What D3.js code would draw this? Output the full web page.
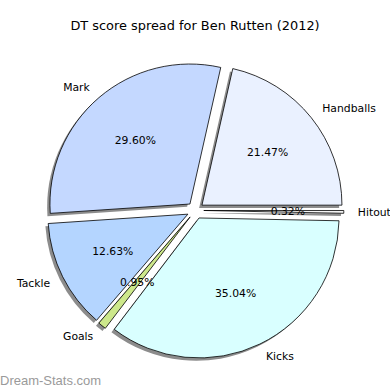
<!DOCTYPE html>
<html>
<head>
<meta charset="utf-8">
<script src="https://cdn.jsdelivr.net/npm/d3@7"></script>
<style>
  body { margin: 0; background: #fff; }
  text { font-family: "DejaVu Sans", sans-serif; fill: #000; }
</style>
</head>
<body>
<svg width="390" height="390"></svg>
<script>
// slices, in the order they go round (anticlockwise from 3 o'clock)
var labels = ["Handballs", "Mark", "Tackle", "Goals", "Kicks", "Hitout"];
var shares = [21.47, 29.60, 12.63, 0.95, 35.04, 0.32];
var colors = ["#eaf1ff", "#c4d8ff", "#b4d5ff", "#cde88b", "#d9ffff", "#f4f4f4"];

var svgWidth = 390, svgHeight = 390;
var cx = 195.4, cy = 210.4, radius = 140;
var explode = 8.4;

var svg = d3.select('svg')
    .attr("width", svgWidth)
    .attr("height", svgHeight);

svg.append("rect")
    .attr("width", svgWidth)
    .attr("height", svgHeight)
    .attr("fill", "#fff");

svg.append("text")
    .attr("x", 195)
    .attr("y", 25)
    .attr("text-anchor", "middle")
    .attr("dominant-baseline", "central")
    .style("font-size", "12.9px")
    .text("DT score spread for Ben Rutten (2012)");

var data = labels.map(function(d, i) {
    return {label: d, value: shares[i], color: colors[i]};
});

// matplotlib-style: start at 3 o'clock, go anticlockwise
var pie = d3.pie()
    .sort(null)
    .value(function(d) { return d.value; })
    .startAngle(Math.PI / 2)
    .endAngle(Math.PI / 2 - 2 * Math.PI);

var arcs = pie(data);

var path = d3.arc()
    .outerRadius(radius)
    .innerRadius(0);

function unit(d) {
    var m = (d.startAngle + d.endAngle) / 2;
    return [Math.sin(m), -Math.cos(m)];
}

var g = svg.append("g")
    .attr("transform", "translate(" + cx + "," + cy + ")");

// shadows first, under the wedges
g.selectAll(".shadow")
    .data(arcs)
    .enter()
    .append("path")
    .attr("class", "shadow")
    .attr("d", path)
    .attr("fill", "#8c8c8c")
    .attr("transform", function(d) {
        var u = unit(d);
        return "translate(" + (u[0] * explode - 2.8) + "," + (u[1] * explode + 2.8) + ")";
    });

g.selectAll(".wedge")
    .data(arcs)
    .enter()
    .append("path")
    .attr("class", "wedge")
    .attr("d", path)
    .attr("fill", function(d) { return d.data.color; })
    .attr("stroke", "#000")
    .attr("stroke-width", 0.8)
    .attr("stroke-linejoin", "round")
    .attr("transform", function(d) {
        var u = unit(d);
        return "translate(" + (u[0] * explode) + "," + (u[1] * explode) + ")";
    });

// outer labels
g.selectAll(".lbl")
    .data(arcs)
    .enter()
    .append("text")
    .attr("class", "lbl")
    .attr("x", function(d) { return unit(d)[0] * (explode + 1.1 * radius); })
    .attr("y", function(d) { return unit(d)[1] * (explode + 1.1 * radius); })
    .attr("text-anchor", function(d) { return unit(d)[0] > 0 ? "start" : "end"; })
    .attr("dominant-baseline", "central")
    .style("font-size", "10.8px")
    .text(function(d) { return d.data.label; });

// percentages
g.selectAll(".pct")
    .data(arcs)
    .enter()
    .append("text")
    .attr("class", "pct")
    .attr("x", function(d) { return unit(d)[0] * (explode + 0.6 * radius); })
    .attr("y", function(d) { return unit(d)[1] * (explode + 0.6 * radius); })
    .attr("text-anchor", "middle")
    .attr("dominant-baseline", "central")
    .style("font-size", "10.8px")
    .text(function(d) { return d.data.value.toFixed(2) + "%"; });

svg.append("text")
    .attr("x", 0)
    .attr("y", 385)
    .style("font-family", "'Liberation Sans', Arial, sans-serif")
    .style("font-size", "13px")
    .style("fill", "#9a9a9a")
    .text("Dream-Stats.com");
</script>
</body>
</html>
